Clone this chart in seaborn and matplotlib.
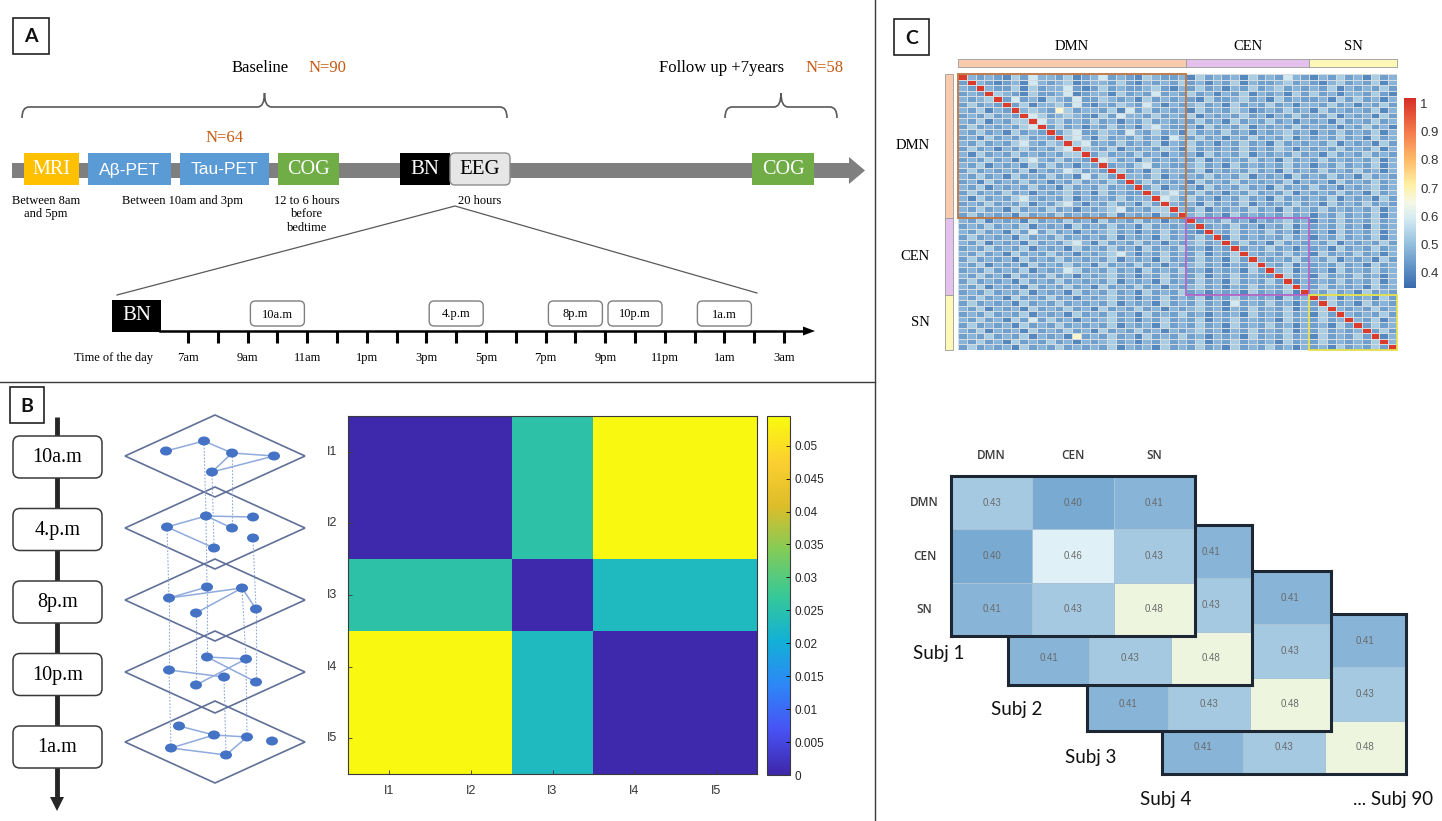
import numpy as np
import pandas as pd
import matplotlib
matplotlib.use("Agg")
import matplotlib.pyplot as plt
import seaborn as sns
from matplotlib.colors import LinearSegmentedColormap
from matplotlib.patches import Rectangle, FancyBboxPatch, Polygon, Ellipse, PathPatch
from matplotlib.path import Path


# ==========================
# Data
# ==========================

baseline_n = 90
pet_n = 64
followup_n = 58

baseline_steps = ["MRI", "Aβ-PET", "Tau-PET", "COG"]
baseline_windows = ["Between 8am\nand 5pm", "Between 10am and 3pm", "12 to 6 hours\nbefore\nbedtime"]
eeg_duration = "20 hours"

hour_ticks = list(range(7, 28))          # 7am ... 3am (next day)
hour_labels = ["7am", "9am", "11am", "1pm", "3pm", "5pm", "7pm", "9pm", "11pm", "1am", "3am"]
session_labels = ["10a.m", "4.p.m", "8p.m", "10p.m", "1a.m"]
session_hours = [10, 16, 20, 22, 25]

# multilayer network sketch (pixel positions of the nodes per layer)
layer_nodes = [
    [(166, 451), (204, 441), (232, 453), (274, 456), (212, 472)],
    [(167, 527), (206, 516), (232, 528), (253, 517), (253, 538), (214, 548)],
    [(169, 598), (207, 587), (242, 588), (256, 609), (196, 613)],
    [(207, 657), (246, 659), (169, 670), (224, 677), (196, 685), (256, 682)],
    [(179, 726), (214, 735), (247, 737), (272, 741), (171, 748), (226, 755)],
]
layer_edges = [
    [(0, 1), (1, 2), (2, 3), (2, 4), (4, 3)],
    [(0, 1), (1, 3), (1, 2), (0, 5)],
    [(0, 1), (0, 2), (2, 3), (4, 2)],
    [(0, 1), (0, 5), (2, 3), (4, 1)],
    [(0, 1), (1, 2), (4, 1), (4, 5), (5, 2)],
]
# inter-layer links: (layer, node in layer, node in next layer)
layer_links = [
    (0, 1, 1), (0, 4, 5), (0, 2, 2),
    (1, 0, 0), (1, 1, 1), (1, 4, 3),
    (2, 0, 2), (2, 1, 0), (2, 3, 5), (2, 2, 1), (2, 4, 4),
    (3, 2, 4), (3, 1, 2), (3, 3, 5),
]

roi_labels = ["I1", "I2", "I3", "I4", "I5"]
layer_dist = [
    [0.0005, 0.0005, 0.0255, 0.0540, 0.0540],
    [0.0005, 0.0005, 0.0255, 0.0540, 0.0540],
    [0.0255, 0.0255, 0.0005, 0.0228, 0.0228],
    [0.0540, 0.0540, 0.0228, 0.0005, 0.0005],
    [0.0540, 0.0540, 0.0228, 0.0005, 0.0005],
]
dist_ticks = [0, 0.005, 0.01, 0.015, 0.02, 0.025, 0.03, 0.035, 0.04, 0.045, 0.05]

networks = ["DMN", "CEN", "SN"]
network_sizes = [26, 14, 10]

# 50 x 50 node-wise connectivity, estimated level per cell
fc_levels = {"1": 0.40, "2": 0.44, "3": 0.48, "4": 0.53, "5": 0.59, "6": 0.67, "9": 1.0}
fc_rows = [
    "93232 14253 32412 35232 14322 31423 23142 32532 13242 31423",
    "29321 23153 23412 33242 13232 42313 24132 23423 21342 32413",
    "32932 24142 33521 24232 23421 32423 13242 34232 32413 23242",
    "23294 32142 23512 33142 32523 24231 32413 23142 42313 32421",
    "32349 25231 43252 24323 14232 32142 23423 14232 23142 42313",
    "24232 92413 34252 13243 25313 23423 14232 42313 32423 13242",
    "32413 29343 26423 32415 24232 31423 24312 32423 14232 32413",
    "23242 32954 23432 14253 32423 24132 32423 13242 32413 23142",
    "32413 24495 34232 42313 24232 32423 14232 42313 23142 32423",
    "24232 32459 24231 32423 14532 23142 32413 23242 32313 24231",
    "32423 14232 92452 24325 32423 14232 42313 23423 13242 32413",
    "23142 32423 29453 14232 42315 32423 13242 32413 23242 31423",
    "32423 24532 43945 23242 32413 24231 32423 14232 32413 23142",
    "24231 32423 24594 32413 23243 14232 32423 24313 23242 32413",
    "31423 24232 32449 24232 42313 23142 32413 23242 31423 24232",
    "23242 31453 24232 95423 14232 32413 23242 31423 24232 32413",
    "32413 23142 42313 29232 45232 23423 14232 32423 13242 32413",
    "24232 32413 23542 32942 31423 32413 23242 31423 24232 42313",
    "32423 14232 42315 24293 32413 23242 32413 23142 32423 14232",
    "23142 32423 13242 32429 24232 31423 24232 32413 23142 32423",
    "32413 23242 31423 24232 92413 23142 32423 14232 42313 23423",
    "24232 42313 23423 14232 29345 32423 13242 32413 23242 31423",
    "31423 24532 32413 23242 33954 24231 32423 14232 32413 23142",
    "23242 32413 24531 32423 14293 23142 32413 23242 31423 24232",
    "32423 14232 42313 23452 32449 32413 23242 31423 24232 32413",
    "24232 31423 24232 32413 23142 93423 14232 32423 13242 32413",
    "32413 23142 32423 14232 42313 29232 42313 23423 13242 32423",
    "23242 32413 23142 32423 14232 32923 24231 32413 23242 31423",
    "32423 14252 42313 23423 13242 32193 24232 42313 23142 32413",
    "24232 31423 24232 32413 23142 32429 14232 32423 13242 32413",
    "32413 23142 32453 14232 42313 23423 92423 14232 32413 23242",
    "23242 32413 23142 32423 14232 42313 29232 42313 23142 32423",
    "32423 14232 42313 23453 13242 32413 24932 32423 14232 42313",
    "24232 31423 24232 32413 23142 32423 14293 23242 32413 23142",
    "32413 23142 32423 14232 42313 23423 13249 32413 23242 31423",
    "23242 32413 23542 32423 14232 42313 23142 93413 23142 32423",
    "32423 14232 42313 23423 13242 32413 24232 29423 14232 42313",
    "24232 31423 24232 32413 23142 32423 14232 42913 23242 32413",
    "32413 23142 32423 14232 42313 23423 13242 32493 24232 31423",
    "23242 32413 23142 32423 14232 42313 23142 32419 32423 14232",
    "32423 14232 42313 23423 13242 32413 24232 31423 92413 23142",
    "24232 31423 24232 32413 23142 32423 15232 42313 29423 14232",
    "32413 23142 32423 14232 42313 23423 13242 32413 24932 32423",
    "23242 32413 23142 32423 14232 42313 23142 32423 14293 23242",
    "32423 14252 42313 23423 13242 32413 24232 31423 24239 32413",
    "24232 31423 24232 32413 23142 32423 14232 42313 23142 92423",
    "32413 23142 32423 14232 42313 23423 13242 32413 24232 39242",
    "23242 32413 23162 32423 14232 42313 23142 32423 14232 42913",
    "32423 14232 42313 23423 13242 32413 24232 31423 24232 32493",
    "24232 31423 24232 32413 23142 32423 14232 42313 23142 32429",
]
fc_ticks = [0.4, 0.5, 0.6, 0.7, 0.8, 0.9, 1.0]

subj_fc = [
    [0.43, 0.40, 0.41],
    [0.40, 0.46, 0.43],
    [0.41, 0.43, 0.48],
]
subj_names = ["Subj 1", "Subj 2", "Subj 3", "Subj 4", "... Subj 90"]


# ==========================
# Styles / helpers
# ==========================

W, H = 1442, 821
SERIF = "Liberation Serif"
SANS = "Liberation Sans"
LATO = "Lato"
ORANGE = "#c65911"
GRAY = "#7f7f7f"

fig = plt.figure(figsize=(W / 100, H / 100), dpi=100)
ov = fig.add_axes([0, 0, 1, 1])
ov.set_xlim(0, W)
ov.set_ylim(H, 0)
ov.axis("off")


def px_axes(left, top, width, height, z=1):
    ax = fig.add_axes([left / W, 1 - (top + height) / H, width / W, height / H])
    ax.set_zorder(z)
    return ax


def panel_letter(x, y, s, w=36, h=36):
    ov.add_patch(Rectangle((x, y), w, h, fill=False, ec="#222222", lw=1.2))
    ov.text(x + w / 2, y + h / 2 + 1, s, ha="center", va="center",
            fontsize=14, fontweight="bold", family=LATO, color="#111111")


def brace(x0, x1, y_end=118, y_line=107, y_tip=93, r=7):
    xm = (x0 + x1) / 2
    verts = [(x0, y_end), (x0, y_line), (x0 + r, y_line),
             (xm - r, y_line), (xm, y_line), (xm, y_tip),
             (xm, y_line), (xm + r, y_line),
             (x1 - r, y_line), (x1, y_line), (x1, y_end)]
    codes = [Path.MOVETO, Path.CURVE3, Path.CURVE3,
             Path.LINETO, Path.CURVE3, Path.CURVE3,
             Path.CURVE3, Path.CURVE3,
             Path.LINETO, Path.CURVE3, Path.CURVE3]
    ov.add_patch(PathPatch(Path(verts, codes), fill=False, ec="#595959", lw=1.2))


def rbox(x, y, w, h, text, size, rs=5, fc="white", ec="#7f7f7f", lw=1.0, tc="black"):
    ov.add_patch(FancyBboxPatch((x, y), w, h, boxstyle=f"round,pad=0,rounding_size={rs}",
                                fc=fc, ec=ec, lw=lw, zorder=3))
    ov.text(x + w / 2, y + h / 2 + 1, text, ha="center", va="center",
            fontsize=size, family=SERIF, color=tc, zorder=4)


# panel separators
ov.plot([875, 875], [0, H], color="#3a3a3a", lw=1.0)
ov.plot([0, 875], [382, 382], color="#3a3a3a", lw=1.0)

# ==========================
# Panel A: study timeline
# ==========================
panel_letter(13, 18, "A")

ov.text(260, 68, "Baseline", ha="center", va="center", fontsize=12, family=SERIF)
ov.text(327, 68, f"N={baseline_n}", ha="center", va="center", fontsize=12, family=SERIF, color=ORANGE)
ov.text(722, 68, "Follow up +7years", ha="center", va="center", fontsize=12, family=SERIF)
ov.text(825, 68, f"N={followup_n}", ha="center", va="center", fontsize=12, family=SERIF, color=ORANGE)
ov.text(225, 138, f"N={pet_n}", ha="center", va="center", fontsize=12, family=SERIF, color=ORANGE)
brace(22, 507)
brace(725, 837)

# main arrow
ov.add_patch(Rectangle((12, 163), 838, 15, color=GRAY, lw=0))
ov.add_patch(Polygon([(849, 157), (865, 170.5), (849, 184)], closed=True, color=GRAY, lw=0))

step_span = [(24, 79), (88, 171), (180, 269), (278, 339)]
step_colors = ["#ffc000", "#5b9bd5", "#5b9bd5", "#70ad47"]
step_fonts = [SERIF, SANS, SANS, SERIF]
step_sizes = [14.5, 12.5, 12.5, 14.5]
for name, (x0, x1), c, f, s in zip(baseline_steps, step_span, step_colors, step_fonts, step_sizes):
    ov.add_patch(Rectangle((x0, 153), x1 - x0, 32, color=c, lw=0, zorder=2))
    ov.text((x0 + x1) / 2, 170, name, ha="center", va="center", fontsize=s, family=f,
            color="white", zorder=3)

ov.add_patch(Rectangle((400, 153), 50, 32, color="black", lw=0, zorder=2))
ov.text(425, 170, "BN", ha="center", va="center", fontsize=15, family=SERIF, color="white", zorder=3)
rbox(450, 153, 60, 32, "EEG", 15, rs=5, fc="#e7e6e6", ec="#8c8c8c")

ov.add_patch(Rectangle((752, 153), 62, 32, color="#70ad47", lw=0, zorder=2))
ov.text(783, 170, "COG", ha="center", va="center", fontsize=14.5, family=SERIF, color="white", zorder=3)

for x, txt in zip([46, 182, 307], baseline_windows):
    ov.text(x, 195, txt, ha="center", va="top", fontsize=9, family=SERIF, linespacing=1.15)
ov.text(480, 195, eeg_duration, ha="center", va="top", fontsize=9, family=SERIF)

# zoom lines
ov.plot([117, 455, 757], [295, 206, 293], color="#595959", lw=0.9)

# time of the day axis


def hx(h):
    return 188 + (h - 7) * 29.8


ov.add_patch(Rectangle((112, 300), 49, 32, color="black", lw=0, zorder=2))
ov.text(136.5, 316, "BN", ha="center", va="center", fontsize=15, family=SERIF, color="white", zorder=3)
ov.plot([160, 806], [331, 331], color="black", lw=1.8)
ov.add_patch(Polygon([(803, 326.5), (815, 331), (803, 335.5)], closed=True, color="black", lw=0))
for h in hour_ticks:
    ov.plot([hx(h), hx(h)], [331, 343], color="black", lw=2.2, solid_capstyle="butt")
for i, lab in enumerate(hour_labels):
    ov.text(hx(7 + 2 * i), 358, lab, ha="center", va="center", fontsize=9, family=SERIF)
ov.text(113, 358, "Time of the day", ha="center", va="center", fontsize=9, family=SERIF)
for lab, h in zip(session_labels, session_hours):
    rbox(hx(h) - 27, 301, 54, 25, lab, 9, rs=5)

# ==========================
# Panel B: sessions, multilayer networks, layer distance matrix
# ==========================
panel_letter(10, 387, "B", w=34, h=36)

ov.plot([57, 57], [417, 798], color="#262626", lw=3.5, solid_capstyle="butt")
ov.add_patch(Polygon([(50, 797), (64, 797), (57, 811)], closed=True, color="#262626", lw=0))
for i, lab in enumerate(session_labels):
    rbox(13, 436 + i * 72.5, 89, 42, lab, 14.5, rs=7, ec="#3a3a3a", lw=1.1)

layer_cy = [456, 528, 600, 672, 742]
for cy in layer_cy:
    ov.add_patch(Polygon([(125, cy), (215, cy - 41), (305, cy), (215, cy + 41)], closed=True,
                         fill=False, ec="#5f6f96", lw=1.2, zorder=2))
for k, i, j in layer_links:
    (x0, y0), (x1, y1) = layer_nodes[k][i], layer_nodes[k + 1][j]
    ov.plot([x0, x1], [y0, y1], color="#8faadc", lw=0.8, ls=(0, (1.5, 1.5)), zorder=2)
for nodes, edges in zip(layer_nodes, layer_edges):
    for a, b in edges:
        ov.plot([nodes[a][0], nodes[b][0]], [nodes[a][1], nodes[b][1]], color="#8faadc", lw=1.1, zorder=3)
    for x, y in nodes:
        ov.add_patch(Ellipse((x, y), 12, 9, fc="#4472c4", ec="none", zorder=4))

parula = LinearSegmentedColormap.from_list("parula", [
    (0.000, (0.2422, 0.1504, 0.6603)),
    (0.125, (0.2810, 0.3228, 0.9579)),
    (0.250, (0.1786, 0.5289, 0.9682)),
    (0.375, (0.0689, 0.6948, 0.8394)),
    (0.500, (0.2161, 0.7843, 0.5923)),
    (0.625, (0.5044, 0.7993, 0.3480)),
    (0.750, (0.8634, 0.7406, 0.1596)),
    (0.875, (0.9892, 0.8136, 0.1885)),
    (1.000, (0.9763, 0.9831, 0.0538)),
])

axB = px_axes(348, 416, 409, 358, z=2)
caxB = px_axes(767, 416, 23, 359, z=2)
dist_df = pd.DataFrame(layer_dist, index=roi_labels, columns=roi_labels)
sns.heatmap(dist_df, ax=axB, cmap=parula, vmin=0, vmax=0.0545, cbar_ax=caxB,
            cbar_kws={"ticks": dist_ticks})
for s in axB.spines.values():
    s.set_visible(True)
    s.set_color("#3a3a3a")
    s.set_linewidth(0.8)
axB.tick_params(direction="in", length=3, width=0.6, color="#3a3a3a",
                labelsize=9, labelcolor="#333333", pad=8)
axB.set_yticklabels(roi_labels, rotation=0, family=SANS)
axB.set_xticklabels(roi_labels, rotation=0, family=SANS)
cbB = axB.collections[0].colorbar
cbB.outline.set_visible(True)
cbB.outline.set_linewidth(0.8)
cbB.outline.set_edgecolor("#3a3a3a")
cbB.ax.set_yticklabels([f"{t:g}" for t in dist_ticks], family=SANS)
cbB.ax.tick_params(labelsize=8.5, labelcolor="#262626", length=3, width=0.6, direction="in")

# ==========================
# Panel C: node-wise connectivity + network-level matrices
# ==========================
panel_letter(894, 19, "C", w=35, h=36)

fc = np.array([[fc_levels[c] for c in row.replace(" ", "")] for row in fc_rows])
fc_cmap = LinearSegmentedColormap.from_list("fc", [
    (0.00, "#3b6aad"), (0.09, "#5a8cc3"), (0.24, "#98c3df"), (0.36, "#d3e9f2"),
    (0.45, "#f5f8e6"), (0.54, "#fff1a6"), (0.67, "#fdbd6b"), (0.82, "#f57b4c"),
    (1.00, "#d62f27")])

axC = px_axes(958, 74, 439, 276, z=2)
caxC = px_axes(1404, 98, 12, 190, z=2)
sns.heatmap(fc, ax=axC, cmap=fc_cmap, vmin=0.345, vmax=1.02, cbar_ax=caxC,
            xticklabels=False, yticklabels=False, linewidths=0.5, linecolor="#d6dbe0",
            cbar_kws={"ticks": fc_ticks})
cbC = axC.collections[0].colorbar
cbC.outline.set_visible(False)
cbC.ax.set_yticklabels([f"{t:g}" for t in fc_ticks], family=SANS)
cbC.ax.tick_params(labelsize=9.5, labelcolor="#333333", length=0, pad=3)

strip_colors = ["#f8cbad", "#e4c1ec", "#fdf7b8"]
block_colors = ["#c0733d", "#b264c4", "#e6e04a"]
starts = np.cumsum([0] + network_sizes[:-1])
for name, s, n, sc, bc in zip(networks, starts, network_sizes, strip_colors, block_colors):
    axC.add_patch(Rectangle((s, -2.8), n, 1.5, fc=sc, ec="#9a9a9a", lw=0.6, clip_on=False))
    axC.add_patch(Rectangle((-1.5, s), 0.9, n, fc=sc, ec="#9a9a9a", lw=0.6, clip_on=False))
    axC.add_patch(Rectangle((s, s), n, n, fill=False, ec=bc, lw=1.3, clip_on=False, zorder=5))
    axC.text(s + n / 2, -4.9, name, ha="center", va="center", fontsize=10.5, family=SERIF)
    axC.text(-3.2, s + n / 2, name, ha="right", va="center", fontsize=10.5, family=SERIF)

# stacked subject matrices
subj_cmap = LinearSegmentedColormap.from_list("subj", [
    (0.0, "#78aad2"), (0.375, "#a6c9e2"), (0.75, "#dff0f6"), (1.0, "#eef5df")])
subj_df = pd.DataFrame(subj_fc, index=networks, columns=networks)
subj_pos = [(951, 476), (1008, 525), (1087, 571), (1162, 614)]
for k in reversed(range(len(subj_pos))):
    x, y = subj_pos[k]
    ax = px_axes(x, y, 244, 160, z=10 - k)
    sns.heatmap(subj_df, ax=ax, cmap=subj_cmap, vmin=0.40, vmax=0.48, cbar=False,
                annot=True, fmt=".2f", annot_kws={"size": 7, "color": "#6a6a6a", "family": SANS},
                linewidths=0.6, linecolor="#a9c3d6",
                xticklabels=networks if k == 0 else False,
                yticklabels=networks if k == 0 else False)
    for s in ax.spines.values():
        s.set_visible(True)
        s.set_color("#1c2733")
        s.set_linewidth(2.2)
    if k == 0:
        ax.xaxis.tick_top()
        ax.tick_params(axis="x", length=0, labelsize=8.5, labelcolor="#3a3a3a", pad=10)
        ax.tick_params(axis="y", length=0, labelsize=8.5, labelcolor="#3a3a3a", pad=19)
        ax.set_xticklabels(networks, rotation=0, family="Open Sans", fontweight="semibold")
        ax.set_yticklabels(networks, rotation=0, family="Open Sans", fontweight="semibold", ha="center")

for (x, y), name in zip([(913, 653), (991, 709), (1065, 757), (1140, 800), (1353, 800)], subj_names):
    ov.text(x, y, name, ha="left", va="center", fontsize=13.5, family=LATO, color="#111111")

fig.savefig("out.png", dpi=100, facecolor="white")
